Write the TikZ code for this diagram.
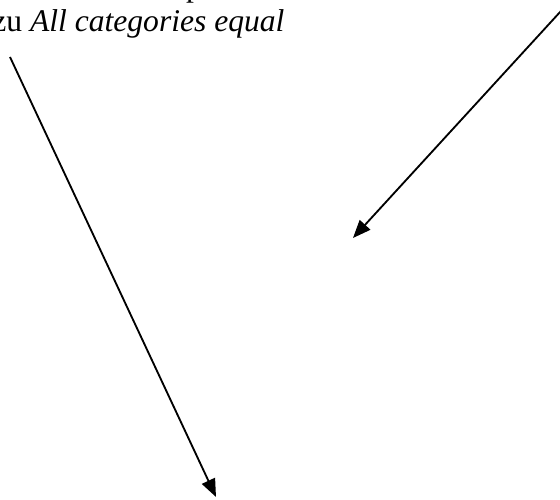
\documentclass[tikz,border=0pt]{standalone}
\usepackage{fontspec}
\setmainfont{Liberation Serif}
\usetikzlibrary{arrows.meta,positioning}

\begin{document}
\begin{tikzpicture}[x=0.38pt,y=-0.38pt,>={Triangle[length=6.8pt,width=5.4pt]},
    lbl/.style={inner sep=0,outer sep=0,anchor=base west,font=\fontsize{12}{14}\selectfont},
    pointer/.style={->,line width=0.7pt}]
    \clip (0,0) rectangle (560,500);
    \node[lbl] (top) at (186,-3) {p};
    \node[lbl] (eq) at (-7.6,32) {zu \textit{All categories equal}};
    \coordinate (a1) at (10,57);
    \coordinate (b1) at (216,497);
    \coordinate (a2) at (561,11);
    \coordinate (b2) at (353,238);
    \draw[pointer] (a1)--(b1);
    \draw[pointer] (a2)--(b2);
  \end{tikzpicture}
\end{document}
